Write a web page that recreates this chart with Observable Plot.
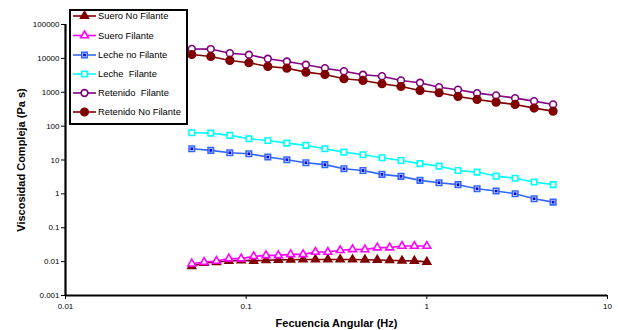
<!DOCTYPE html>
<html>
<head>
<meta charset="utf-8">
<script src="https://cdn.jsdelivr.net/npm/d3@7"></script>
<script src="https://cdn.jsdelivr.net/npm/@observablehq/plot@0.6"></script>
<style>
  body { margin: 0; background: #fff; font-family: "Liberation Sans", Arial, sans-serif; }
  #wrap { position: relative; width: 618px; height: 330px; }
  #legend { position: absolute; left: 0; top: 0; pointer-events: none; }
  svg [aria-label="y-axis label"] text, svg [aria-label="x-axis label"] text { font-weight: bold; font-size: 11px; }
</style>
</head>
<body>
<div id="wrap"></div>
<script>
// Frequencies (Hz)
const freqLong = [0.05, 0.0637, 0.0812, 0.1035, 0.1318, 0.168, 0.2141, 0.2728, 0.3476, 0.443, 0.5645, 0.7193, 0.9166, 1.168, 1.488, 1.897, 2.417, 3.08, 3.925, 5.0];
const freqShort = [0.05, 0.0585, 0.0685, 0.0802, 0.0939, 0.11, 0.1287, 0.1507, 0.1764, 0.2065, 0.2418, 0.2831, 0.3314, 0.388, 0.4542, 0.5317, 0.6225, 0.7287, 0.8531, 1.0];

// Complex viscosity (Pa s)
const sueroNoFilante = [0.0073, 0.0091, 0.0097, 0.0104, 0.0109, 0.0105, 0.011, 0.0113, 0.0114, 0.0115, 0.0115, 0.0116, 0.0116, 0.0115, 0.0114, 0.0112, 0.011, 0.0106, 0.0105, 0.0098];
const sueroFilante = [0.0087, 0.0097, 0.0104, 0.0123, 0.0123, 0.0143, 0.0153, 0.0153, 0.0164, 0.0164, 0.0192, 0.0192, 0.0216, 0.023, 0.0227, 0.0259, 0.0259, 0.0288, 0.0288, 0.0288];
const lecheNoFilante = [21.5, 19.2, 16.4, 15.3, 12.2, 10.2, 8.3, 7.3, 5.5, 4.9, 3.76, 3.28, 2.5, 2.14, 1.87, 1.42, 1.21, 1.01, 0.72, 0.57];
const lecheFilante = [63.8, 62.2, 53.2, 42.5, 37.8, 31.5, 27, 21.5, 17.1, 14.3, 11.7, 9.7, 7.8, 6.6, 4.9, 4.4, 3.35, 2.9, 2.23, 1.87];
const retenidoFilante = [19000, 18800, 14200, 12800, 9730, 8100, 6480, 5140, 4190, 3280, 2980, 2230, 1900, 1410, 1190, 940, 805, 670, 546, 436];
const retenidoNoFilante = [13000, 11400, 8670, 7420, 5770, 5140, 3920, 3350, 2500, 2230, 1780, 1480, 1130, 966, 751, 613, 511, 436, 340, 277];

const seriesNames = ["Suero No Filante", "Suero Filante", "Leche no Filante", "Leche  Filante", "Retenido  Filante", "Retenido No Filante"];

const xTicks = [0.01, 0.1, 1, 10];
const yTicks = [0.001, 0.01, 0.1, 1, 10, 100, 1000, 10000, 100000];

const styles = {
  "Suero No Filante": {line: "#800000", symbol: "triangle", fill: "#800000", stroke: "#800000", r: 2.9},
  "Suero Filante": {line: "#ff00ff", symbol: "triangle", fill: "white", stroke: "#ff00ff", r: 2.9},
  "Leche no Filante": {line: "#3366ff", symbol: "square", fill: "white", stroke: "#3366ff", r: 3.1, inner: "#0000ff"},
  "Leche  Filante": {line: "#00ffff", symbol: "square", fill: "white", stroke: "#00ffff", r: 3.1},
  "Retenido  Filante": {line: "#800080", symbol: "circle", fill: "white", stroke: "#800080", r: 3.4},
  "Retenido No Filante": {line: "#800000", symbol: "circle", fill: "#800000", stroke: "#800000", r: 3.8}
};

const seriesData = [
  [seriesNames[0], freqShort, sueroNoFilante],
  [seriesNames[1], freqShort, sueroFilante],
  [seriesNames[2], freqLong, lecheNoFilante],
  [seriesNames[3], freqLong, lecheFilante],
  [seriesNames[4], freqLong, retenidoFilante],
  [seriesNames[5], freqLong, retenidoNoFilante]
].map(([name, xs, ys]) => ({name, rows: xs.map((x, i) => ({x, y: ys[i]}))}));

const marks = [];
for (const s of seriesData) {
  const st = styles[s.name];
  marks.push(Plot.line(s.rows, {x: "x", y: "y", stroke: st.line, strokeWidth: 1.6}));
}
for (const s of seriesData) {
  const st = styles[s.name];
  marks.push(Plot.dot(s.rows, {x: "x", y: "y", symbol: st.symbol, r: st.r, fill: st.fill, stroke: st.stroke, strokeWidth: 1.6}));
  if (st.inner) marks.push(Plot.dot(s.rows, {x: "x", y: "y", symbol: "square", r: 1.6, fill: st.inner}));
}

const chart = Plot.plot({
  width: 618,
  height: 330,
  marginLeft: 65,
  marginRight: 11,
  marginTop: 24,
  marginBottom: 35,
  style: {fontFamily: "Liberation Sans, Arial, sans-serif", fontSize: "8px", color: "#000", background: "white"},
  x: {type: "log", domain: [0.01, 10]},
  y: {type: "log", domain: [0.001, 100000]},
  marks: [
    Plot.axisX({ticks: xTicks, tickFormat: d => String(d), tickSize: 4, tickPadding: 4, label: "Fecuencia Angular (Hz)", labelAnchor: "center", labelArrow: "none", labelOffset: 31}),
    Plot.axisY({ticks: yTicks, tickFormat: d => String(d), tickSize: 4, tickPadding: 2, label: "Viscosidad Compleja (Pa s)", labelAnchor: "center", labelArrow: "none", labelOffset: 48}),
    ...marks,
    Plot.ruleX([0.01], {stroke: "black", strokeWidth: 2.2}),
    Plot.ruleY([0.001], {stroke: "black", strokeWidth: 2.2})
  ]
});
document.getElementById("wrap").appendChild(chart);

// Legend overlay
const legend = d3.select("#wrap").append("svg")
  .attr("id", "legend").attr("width", 618).attr("height", 330);
legend.append("rect").attr("x", 70).attr("y", 10).attr("width", 117).attr("height", 114)
  .attr("fill", "white").attr("stroke", "black").attr("stroke-width", 2);
const rowY = [16, 35.5, 55, 74, 93, 112];
seriesNames.forEach((name, i) => {
  const st = styles[name];
  const g = legend.append("g").attr("transform", `translate(0,${rowY[i]})`);
  g.append("line").attr("x1", 73).attr("x2", 96).attr("y1", 0).attr("y2", 0).attr("stroke", st.line).attr("stroke-width", 1.6);
  const sym = {triangle: d3.symbolTriangle, square: d3.symbolSquare, circle: d3.symbolCircle}[st.symbol];
  const area = Math.PI * st.r * st.r;
  g.append("path").attr("d", d3.symbol(sym, area)()).attr("transform", "translate(84.5,0)")
    .attr("fill", st.fill).attr("stroke", st.stroke).attr("stroke-width", 1.6);
  if (st.inner) g.append("path").attr("d", d3.symbol(d3.symbolSquare, Math.PI * 1.6 * 1.6)()).attr("transform", "translate(84.5,0)").attr("fill", st.inner);
  g.append("text").attr("x", 98).attr("y", 0).attr("dy", "0.35em")
    .attr("font-family", "Liberation Sans, Arial, sans-serif").attr("font-size", 9.4).attr("fill", "#000")
    .attr("xml:space", "preserve").style("white-space", "pre").text(name);
});
</script>
</body>
</html>
